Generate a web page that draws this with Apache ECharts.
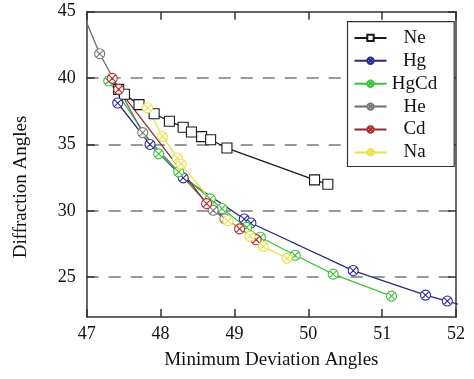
<!DOCTYPE html>
<html>
<head>
<meta charset="utf-8">
<script src="https://cdn.jsdelivr.net/npm/echarts@6/dist/echarts.min.js"></script>
<style>html,body{margin:0;padding:0;background:#fff;}#c{width:474px;height:379px;}</style>
</head>
<body>
<div id="c"></div>
<script>
// ---- data ----
const seriesNames = ['Ne', 'Hg', 'HgCd', 'He', 'Cd', 'Na'];
const xTicks = [47, 48, 49, 50, 51, 52];
const yTicks = [25, 30, 35, 40, 45];
const ne = [[47.433, 39.15], [47.511, 38.78], [47.708, 38.00], [47.913, 37.31], [48.120, 36.75], [48.306, 36.30], [48.418, 35.94], [48.556, 35.59], [48.678, 35.35], [48.899, 34.73], [50.085, 32.33], [50.265, 32.00]];
const hg = [[47.42, 38.12], [47.857, 35.00], [48.307, 32.48], [49.133, 29.38], [49.223, 29.08], [50.608, 25.50], [51.587, 23.65], [51.882, 23.20], [52.2, 22.7]];
const hgcd = [[47.298, 39.78], [47.974, 34.29], [48.246, 32.94], [48.673, 30.90], [48.831, 30.17], [49.165, 28.75], [49.352, 28.01], [49.823, 26.65], [50.337, 25.23], [51.127, 23.57]];
const he = [[46.9, 45.5], [47.176, 41.83], [47.758, 35.89], [48.713, 30.04], [48.871, 29.39]];
const cd = [[47.346, 39.98], [47.433, 39.15], [48.624, 30.54], [49.070, 28.64], [49.294, 27.82]];
const na = [[47.823, 37.76], [48.028, 35.60], [48.229, 33.98], [48.276, 33.53], [48.912, 29.25], [49.210, 28.09], [49.392, 27.32], [49.711, 26.42]];

const lineColors = ['#1a1a1a', '#2a2a78', '#3cc23c', '#6e6e6e', '#8a2e2e', '#e8e24a'];
const markColors = ['#1a1a1a', '#2b2b9a', '#3cc23c', '#7a7a7a', '#b03030', '#e8e24a'];
const dataSets = [ne, hg, hgcd, he, cd, na];

const FONT = 'Liberation Serif';
const circX = 'path://M0,-10A10,10 0 1,1 0,10A10,10 0 1,1 0,-10ZM-7,-7L7,7M-7,7L7,-7';

const chart = echarts.init(document.getElementById('c'), null, {renderer: 'canvas'});
const axisCol = '#333333';
const tick = {show: true, inside: true, length: 8, lineStyle: {color: axisCol, width: 1.5}};
const option = {
  animation: false,
  grid: {left: 86.7, right: 18, top: 11.7, bottom: 62},
  legend: {
    orient: 'vertical', left: 347.5, top: 21.7,
    backgroundColor: '#fff', borderColor: '#333', borderWidth: 1.2,
    padding: [6.7, 17, 4.6, 6],
    itemWidth: 32, itemHeight: 8, itemGap: 3.9,
    data: seriesNames,
    formatter: n => '{a|' + n + '}',
    textStyle: {fontFamily: FONT, fontSize: 19, color: '#111',
      rich: {a: {fontFamily: FONT, fontSize: 19, width: 46, align: 'center', color: '#111'}}}
  },
  xAxis: [{
    type: 'value', min: 47, max: 52, interval: 1, position: 'bottom',
    name: 'Minimum Deviation Angles', nameLocation: 'middle', nameGap: 34,
    nameTextStyle: {fontFamily: FONT, fontSize: 19, color: '#111'},
    axisLine: {show: true, lineStyle: {color: axisCol, width: 1.5}},
    axisTick: tick,
    axisLabel: {fontFamily: FONT, fontSize: 18, color: '#111', margin: 8},
    splitLine: {show: false}
  }, {
    type: 'value', min: 47, max: 52, interval: 1, position: 'top',
    axisLine: {show: true, lineStyle: {color: axisCol, width: 1.5}},
    axisTick: tick,
    axisLabel: {show: false}, splitLine: {show: false}
  }],
  yAxis: [{
    type: 'value', min: 22, max: 45, position: 'left',
    axisLine: {show: true, lineStyle: {color: axisCol, width: 1.5}},
    axisTick: Object.assign({}, tick, {customValues: yTicks}),
    axisLabel: {fontFamily: FONT, fontSize: 18, color: '#111', margin: 11, customValues: yTicks},
    splitLine: {show: true, showMaxLine: false, showMinLine: true, lineStyle: {color: '#9a9a9a', width: 2, type: [12, 10]}}
  }, {
    type: 'value', min: 22, max: 45, position: 'right',
    axisLine: {show: true, lineStyle: {color: axisCol, width: 1.5}},
    axisTick: Object.assign({}, tick, {customValues: yTicks}),
    axisLabel: {show: false}, splitLine: {show: false}
  }],
  graphic: [{
    type: 'text', x: 20.7, y: 187, rotation: Math.PI / 2,
    style: {text: 'Diffraction Angles', fontFamily: FONT, fontSize: 19, fill: '#111', align: 'center', verticalAlign: 'middle'}
  }],
  series: seriesNames.map((n, i) => ({
    name: n, type: 'line', data: dataSets[i], clip: true,
    xAxisIndex: 0, yAxisIndex: 0,
    symbol: i === 0 ? 'rect' : circX,
    symbolSize: 10,
    showAllSymbol: true,
    lineStyle: {color: lineColors[i], width: 1.3},
    itemStyle: {color: '#fff', borderColor: markColors[i], borderWidth: 1.1}
  }))
};
chart.setOption(option);
</script>
</body>
</html>
